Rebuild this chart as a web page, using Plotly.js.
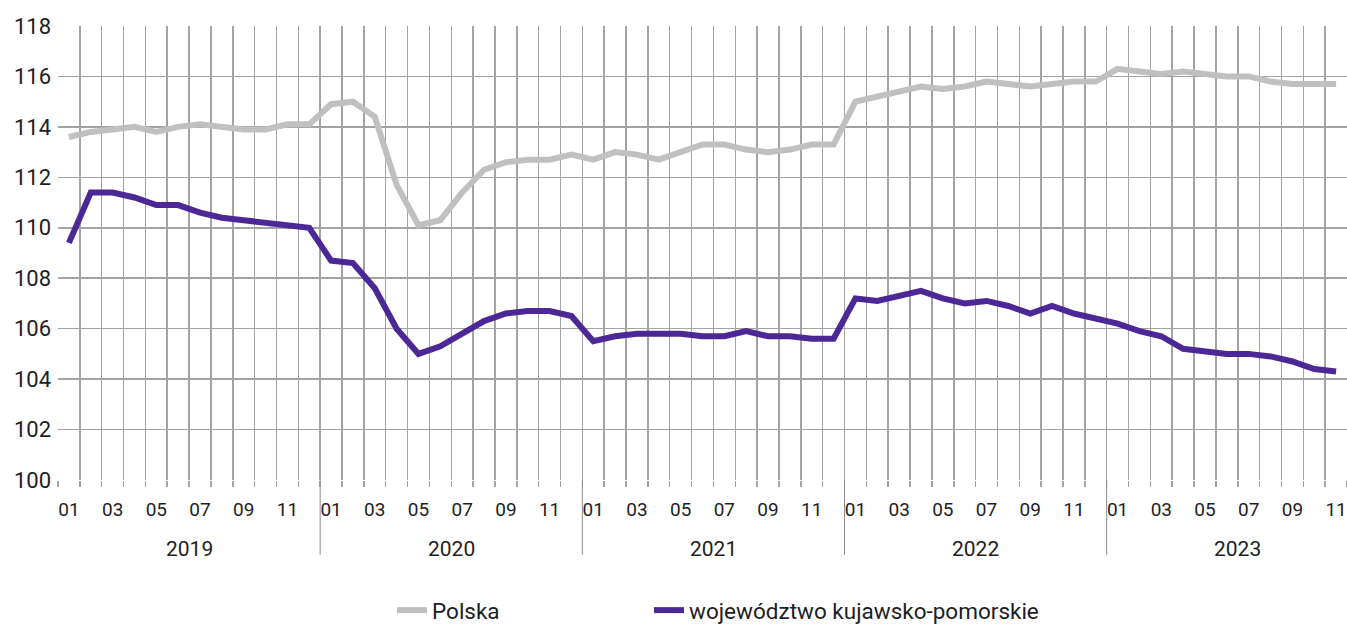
<!DOCTYPE html>
<html>
<head>
<meta charset="utf-8">
<script src="https://cdn.plot.ly/plotly-3.0.1.min.js"></script>
<style>
html,body{margin:0;padding:0;background:#fff;}
#chart{width:1347px;height:632px;}
</style>
</head>
<body>
<div id="chart"></div>
<script>
const years = ['2019', '2020', '2021', '2022', '2023'];
const months = ['01', '02', '03', '04', '05', '06', '07', '08', '09', '10', '11', '12'];
const seriesNames = ['Polska', 'województwo kujawsko-pomorskie'];

const polska = [
  113.6, 113.8, 113.9, 114.0, 113.8, 114.0, 114.1, 114.0, 113.9, 113.9, 114.1, 114.1,
  114.9, 115.0, 114.4, 111.7, 110.1, 110.3, 111.4, 112.3, 112.6, 112.7, 112.7, 112.9,
  112.7, 113.0, 112.9, 112.7, 113.0, 113.3, 113.3, 113.1, 113.0, 113.1, 113.3, 113.3,
  115.0, 115.2, 115.4, 115.6, 115.5, 115.6, 115.8, 115.7, 115.6, 115.7, 115.8, 115.8,
  116.3, 116.2, 116.1, 116.2, 116.1, 116.0, 116.0, 115.8, 115.7, 115.7, 115.7
];
const kujawsko = [
  109.4, 111.4, 111.4, 111.2, 110.9, 110.9, 110.6, 110.4, 110.3, 110.2, 110.1, 110.0,
  108.7, 108.6, 107.6, 106.0, 105.0, 105.3, 105.8, 106.3, 106.6, 106.7, 106.7, 106.5,
  105.5, 105.7, 105.8, 105.8, 105.8, 105.7, 105.7, 105.9, 105.7, 105.7, 105.6, 105.6,
  107.2, 107.1, 107.3, 107.5, 107.2, 107.0, 107.1, 106.9, 106.6, 106.9, 106.6, 106.4,
  106.2, 105.9, 105.7, 105.2, 105.1, 105.0, 105.0, 104.9, 104.7, 104.4, 104.3
];

const n = polska.length;
const xs = [];
const monthOf = [];
for (let i = 0; i < n; i++) { xs.push(i); monthOf.push(months[i % 12]); }

const tickvals = [], ticktext = [];
for (let i = 0; i < n; i++) { if (i % 2 === 0) { tickvals.push(i); ticktext.push(monthOf[i]); } }

const boundaries = [];
for (let i = 0; i <= n; i++) boundaries.push(i - 0.5);

const FONT = 'Roboto, sans-serif';
const GRID = '#a3a3a3';
const TXT = '#1e1e1e';

const annotations = years.map((y, k) => ({
  x: 12 * k + 5.5, xref: 'x', y: -0.151, yref: 'paper',
  text: y, showarrow: false, xanchor: 'center', yanchor: 'middle',
  font: {family: FONT, size: 21, color: TXT}
}));
const shapes = years.slice(1).map((y, k) => ({
  type: 'line', xref: 'x', yref: 'paper',
  x0: 12 * (k + 1) - 0.5, x1: 12 * (k + 1) - 0.5, y0: 0, y1: -0.165,
  line: {color: '#8c8c8c', width: 1}
}));

const traces = [
  {x: xs, y: polska, name: seriesNames[0], type: 'scatter', mode: 'lines',
   line: {color: '#c0c0c0', width: 6}, legend: 'legend'},
  {x: xs, y: kujawsko, name: seriesNames[1], type: 'scatter', mode: 'lines',
   line: {color: '#4b2896', width: 6}, legend: 'legend2'}
];

const legendFont = {family: FONT, size: 22.5, color: TXT};
const layout = {
  width: 1347, height: 632,
  margin: {l: 58, r: 0, t: 26, b: 145},
  paper_bgcolor: '#fff', plot_bgcolor: '#fff',
  font: {family: FONT, color: TXT},
  showlegend: true,
  legend: {orientation: 'h', x: (392 - 58) / 1289, xanchor: 'left', y: -0.288, yanchor: 'middle',
           font: legendFont},
  legend2: {orientation: 'h', x: (649 - 58) / 1289, xanchor: 'left', y: -0.288, yanchor: 'middle',
           font: legendFont},
  xaxis: {
    range: [-0.5, n - 0.5], tickmode: 'array', tickvals: tickvals, ticktext: ticktext,
    showgrid: false, zeroline: false, ticks: '', showline: false,
    ticklabelstandoff: 16, ticklabeloverflow: 'allow',
    tickfont: {family: FONT, size: 19, color: TXT},
    minor: {tickmode: 'array', tickvals: boundaries, showgrid: true, gridcolor: GRID, gridwidth: 1.5,
            ticks: 'outside', ticklen: 6, tickcolor: GRID, tickwidth: 1.5},
    fixedrange: true
  },
  yaxis: {
    range: [100, 118], tickmode: 'linear', tick0: 100, dtick: 2,
    showgrid: true, gridcolor: GRID, gridwidth: 1.5, zeroline: false,
    showline: false, ticks: '', ticklabelstandoff: 6,
    tickfont: {family: FONT, size: 22, color: TXT},
    fixedrange: true
  },
  annotations: annotations,
  shapes: shapes
};

Plotly.newPlot('chart', traces, layout, {displayModeBar: false, staticPlot: true});
</script>
</body>
</html>
